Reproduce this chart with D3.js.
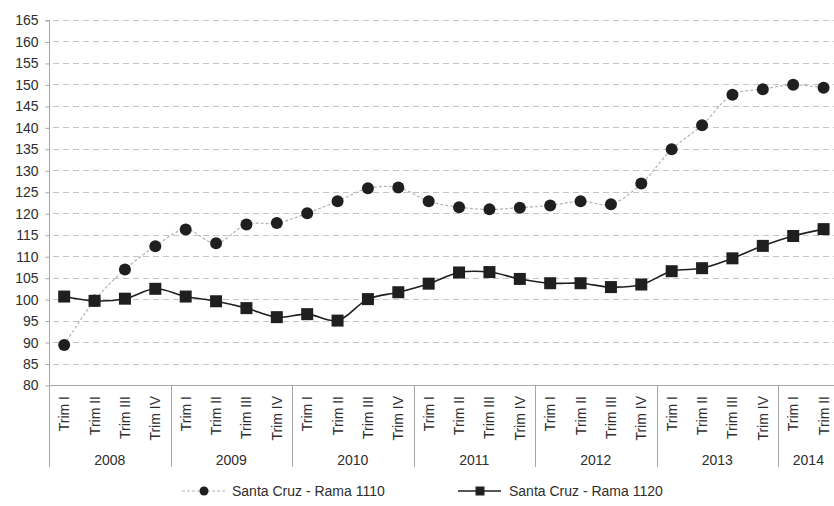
<!DOCTYPE html>
<html>
<head>
<meta charset="utf-8">
<script src="https://cdn.jsdelivr.net/npm/d3@7/dist/d3.min.js"></script>
<style>
  html, body { margin: 0; padding: 0; background: #fff; }
  svg { display: block; font-family: "Liberation Sans", Arial, sans-serif; }
</style>
</head>
<body>
<svg id="chart" width="834" height="506"></svg>
<script>
// Quarterly index, Santa Cruz, 2008 – 2014 (II)
const years = ["2008", "2009", "2010", "2011", "2012", "2013", "2014"];
const quartersPerYear = [4, 4, 4, 4, 4, 4, 2];
const quarterLabels = ["Trim I", "Trim II", "Trim III", "Trim IV"];

const rama1110 = [
  89.3, 99.7, 106.9, 112.3,
  116.2, 113.0, 117.4, 117.7,
  120.0, 122.8, 125.8, 126.0,
  122.8, 121.4, 120.9, 121.3,
  121.8, 122.8, 122.1, 126.9,
  134.9, 140.5, 147.6, 148.9,
  149.9, 149.2
];
const rama1120 = [
  100.6, 99.6, 100.1, 102.4,
  100.6, 99.5, 97.9, 95.8,
  96.5, 95.0, 100.0, 101.6,
  103.6, 106.2, 106.3, 104.7,
  103.7, 103.7, 102.8, 103.4,
  106.5, 107.2, 109.5, 112.4,
  114.7, 116.3
];
const seriesNames = ["Santa Cruz - Rama 1110", "Santa Cruz - Rama 1120"];
const yTicks = d3.range(80, 166, 5);

// Flatten into one category per quarter
const cats = [];
years.forEach((yr, yi) => {
  for (let q = 0; q < quartersPerYear[yi]; q++) {
    cats.push({ key: yr + "-" + q, year: yr, label: quarterLabels[q] });
  }
});

const svg = d3.select("#chart");
const plotLeft = 49, plotRight = 838.75, plotTop = 20, plotBottom = 385;
const textColor = "#2e2e2e";
const axisColor = "#a6a6a6";

const x = d3.scaleBand().domain(cats.map(d => d.key)).range([plotLeft, plotRight]).padding(0);
const y = d3.scaleLinear().domain([80, 165]).range([plotBottom, plotTop]);
const cx = k => x(k) + x.bandwidth() / 2;

// Horizontal dashed gridlines
svg.append("g")
  .selectAll("line")
  .data(yTicks.filter(t => t > 80))
  .join("line")
  .attr("x1", plotLeft + 4).attr("x2", 834)
  .attr("y1", d => Math.round(y(d)) + 0.5).attr("y2", d => Math.round(y(d)) + 0.5)
  .attr("stroke", "#c4c4c4")
  .attr("stroke-width", 1.2)
  .attr("stroke-dasharray", "6,4");

// Y axis
const yAxis = d3.axisLeft(y).tickValues(yTicks).tickSize(4).tickPadding(7).tickFormat(d3.format("d"));
const gy = svg.append("g").attr("transform", `translate(${plotLeft + 0.5},0.5)`).call(yAxis);
gy.select(".domain").attr("stroke", axisColor).attr("d", `M-4,${plotTop}H0V${plotBottom}`);
gy.selectAll(".tick line").attr("stroke", axisColor);
gy.selectAll(".tick text").attr("fill", textColor).attr("font-size", 14)
  .attr("font-family", "'Liberation Sans', Arial, sans-serif");

// X axis baseline
svg.append("line")
  .attr("x1", plotLeft).attr("x2", 834)
  .attr("y1", plotBottom + 0.5).attr("y2", plotBottom + 0.5)
  .attr("stroke", axisColor).attr("stroke-width", 1);

// Year separators
const sepBottom = 467;
let idx = 0;
const yearSpans = years.map((yr, yi) => {
  const first = cats[idx].key;
  const last = cats[idx + quartersPerYear[yi] - 1].key;
  idx += quartersPerYear[yi];
  return { year: yr, x0: x(first), x1: x(last) + x.bandwidth() };
});
svg.append("g")
  .selectAll("line")
  .data(yearSpans)
  .join("line")
  .attr("x1", d => Math.round(d.x0) + 0.5).attr("x2", d => Math.round(d.x0) + 0.5)
  .attr("y1", plotBottom).attr("y2", sepBottom)
  .attr("stroke", axisColor).attr("stroke-width", 1);

// Quarter labels (rotated)
svg.append("g")
  .selectAll("text")
  .data(cats)
  .join("text")
  .attr("transform", d => `translate(${cx(d.key) + 5},${plotBottom + 11}) rotate(-90)`)
  .attr("text-anchor", "end")
  .attr("font-size", 14)
  .attr("fill", textColor)
  .text(d => d.label);

// Year labels
svg.append("g")
  .selectAll("text")
  .data(yearSpans)
  .join("text")
  .attr("x", d => (d.x0 + d.x1) / 2)
  .attr("y", 465)
  .attr("text-anchor", "middle")
  .attr("font-size", 14)
  .attr("fill", textColor)
  .text(d => d.year);

const markColor = "#1f1f1f";
const curve = d3.curveCatmullRom.alpha(0.5);

// Series 1110: dashed grey line with circles
const line = d3.line().x((d, i) => cx(cats[i].key)).y(d => y(d)).curve(curve);
svg.append("path")
  .datum(rama1110)
  .attr("d", line)
  .attr("fill", "none")
  .attr("stroke", "#b3b3b3")
  .attr("stroke-width", 1.2)
  .attr("stroke-dasharray", "3,2");
svg.append("g")
  .selectAll("circle")
  .data(rama1110)
  .join("circle")
  .attr("cx", (d, i) => cx(cats[i].key))
  .attr("cy", d => y(d))
  .attr("r", 6)
  .attr("fill", markColor);

// Series 1120: solid dark line with squares
svg.append("path")
  .datum(rama1120)
  .attr("d", line)
  .attr("fill", "none")
  .attr("stroke", "#1f1f1f")
  .attr("stroke-width", 1.6);
const sq = 12;
svg.append("g")
  .selectAll("rect")
  .data(rama1120)
  .join("rect")
  .attr("x", (d, i) => cx(cats[i].key) - sq / 2)
  .attr("y", d => y(d) - sq / 2)
  .attr("width", sq).attr("height", sq)
  .attr("fill", markColor);

// Legend
const legY = 491;
const leg = svg.append("g");
const l1 = leg.append("g");
l1.append("line").attr("x1", 182).attr("x2", 226).attr("y1", legY).attr("y2", legY)
  .attr("stroke", "#b3b3b3").attr("stroke-width", 1.2).attr("stroke-dasharray", "3,2");
l1.append("circle").attr("cx", 204).attr("cy", legY).attr("r", 4.5).attr("fill", markColor);
l1.append("text").attr("x", 232).attr("y", legY + 5).attr("font-size", 14).attr("fill", textColor)
  .text(seriesNames[0]);
const l2 = leg.append("g");
l2.append("line").attr("x1", 458).attr("x2", 501).attr("y1", legY).attr("y2", legY)
  .attr("stroke", "#1f1f1f").attr("stroke-width", 1.6);
l2.append("rect").attr("x", 475.5).attr("y", legY - 4.5).attr("width", 9).attr("height", 9).attr("fill", markColor);
l2.append("text").attr("x", 509).attr("y", legY + 5).attr("font-size", 14).attr("fill", textColor)
  .text(seriesNames[1]);
</script>
</body>
</html>
